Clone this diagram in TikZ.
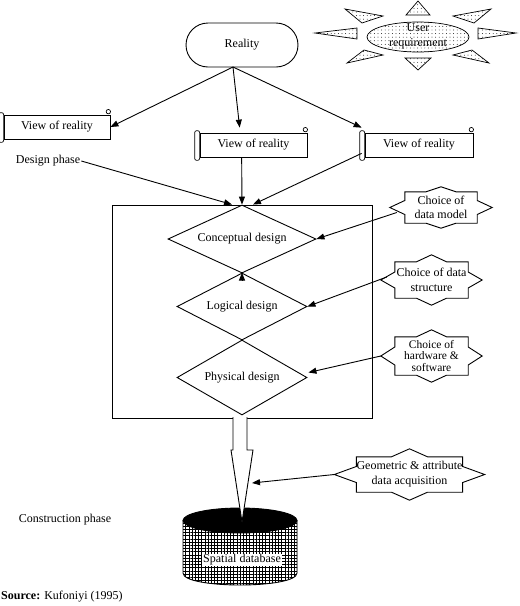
\documentclass[tikz,border=0pt]{standalone}
\usepackage{fontspec}
\setmainfont{Liberation Serif}
\usetikzlibrary{shapes.geometric,arrows.meta,patterns.meta,calc}
\newcommand\scrolldeco[1]{%
  \draw[thinln,fill=white,rounded corners=2pt] ($(#1.north west)+(-5,-2)$) rectangle ($(#1.south west)+(0,3)$);
  \draw[thinln] ($(#1.north east)+(-2,-3)$) circle (2.2pt);
}
\newcommand\sealdeco[5]{%
  \draw[ln] (#1.north west) -- ($(#1.north)+(-#4,0)$) -- ($(#1.north)+(0,-#2)$) -- ($(#1.north)+(#4,0)$) -- (#1.north east)
   -- ($(#1.east)+(0,-#5)$) -- ($(#1.east)+(#3,0)$) -- ($(#1.east)+(0,#5)$) -- (#1.south east)
   -- ($(#1.south)+(#4,0)$) -- ($(#1.south)+(0,#2)$) -- ($(#1.south)+(-#4,0)$) -- (#1.south west)
   -- ($(#1.west)+(0,#5)$) -- ($(#1.west)+(-#3,0)$) -- ($(#1.west)+(0,-#5)$) -- cycle;
}
\begin{document}
\begin{tikzpicture}[x=1pt,y=-1pt,font=\fontsize{12}{14}\selectfont,
  ln/.style={line width=0.9pt},
  thinln/.style={line width=0.7pt},
  arr/.style={ln,-{Triangle[length=8pt,width=6pt]}},
  scrollbox/.style={draw,thinln,minimum width=#1,minimum height=24pt,inner sep=0pt},
  sealbox/.style={align=center,inner sep=0pt,minimum width=#1},
  dia/.style={diamond,draw,ln,inner sep=0pt},
  dotfill/.style={thinln,pattern={Dots[distance=3.6pt,radius=0.45pt]}},
  plain/.style={inner sep=1pt}]
\useasboundingbox (0,0) rectangle (520,606);

% Reality
\node[draw,ln,rounded corners=22pt,minimum width=112pt,minimum height=44pt] (real) at (242,45) {Reality};
\coordinate (rb) at (233,67);

% User requirement sun
\foreach \a/\b/\c in {{(418,1)}/{(406,15)}/{(430,15)},
                      {(418,70)}/{(405,58)}/{(431,58)},
                      {(315,33)}/{(357,28)}/{(357,39)},
                      {(516,33)}/{(478,28)}/{(478,39)},
                      {(345,9)}/{(383,16)}/{(362,23)},
                      {(491,9)}/{(453,16)}/{(474,23)},
                      {(347,63)}/{(364,50)}/{(383,55)},
                      {(489,63)}/{(472,50)}/{(453,55)}}
  \draw[dotfill] \a -- \b -- \c -- cycle;
\draw[dotfill] (418,37) ellipse [x radius=51, y radius=15];
\node[align=center,font=\fontsize{12}{15}\selectfont] (user) at (418,36) {User\\requirement};

% Views of reality
\node[scrollbox=106pt] (v1) at (57,127) {View of reality};
\scrolldeco{v1}
\node[scrollbox=107pt] (v2) at (253.5,145) {View of reality};
\scrolldeco{v2}
\node[scrollbox=108pt] (v3) at (419,145) {View of reality};
\scrolldeco{v3}

\draw[arr] (rb) -- (v1.east);
\draw[arr] (rb) -- ($(v2.north west)+(40,-5)$);
\draw[arr] (rb) -- ($(v3.north west)+(-3,-5)$);

% Design phase
\node[plain] (dp) at (48,161) {Design phase};

% big box
\node[draw,ln,minimum width=260pt,minimum height=213pt,inner sep=0pt] (box) at (242,311.5) {};

% diamonds
\node[dia,minimum width=148pt,minimum height=68pt,aspect=2.18] (cd) at (242,239) {Conceptual design};
\node[dia,minimum width=130pt,minimum height=67pt,aspect=1.94] (ld) at (242,306.5) {Logical design};
\node[dia,minimum width=130pt,minimum height=75pt,aspect=1.73] (pd) at (242,377.5) {Physical design};

\draw[arr] (dp.east) -- ($(cd.north)+(-10,0)$);
\draw[arr] ($(v2.south west)+(42,0)$) -- (cd.north);
\draw[arr] ($(v3.south west)+(-3,-4)$) -- ($(cd.north)+(11,0)$);
\draw[arr] ($(ld.north)+(0,7)$) -- (ld.north);

% seals
\node[sealbox=72pt,minimum height=31pt] (cm) at (441,207.5) {Choice of\\data model};
\sealdeco{cm}{5}{15}{15}{7}
\node[sealbox=73pt,minimum height=36pt,font=\fontsize{12}{15}\selectfont] (cs) at (431.5,280) {Choice of data\\structure};
\sealdeco{cs}{7}{14}{15}{8}
\node[sealbox=73pt,minimum height=38pt,font=\fontsize{11.5}{11.5}\selectfont] (ch) at (431.5,356) {Choice of\\hardware \&\\software};
\sealdeco{ch}{7}{14}{15}{9}
\node[sealbox=105pt,minimum height=35pt,font=\fontsize{12}{15}\selectfont] (cg) at (409.5,474.5) {Geometric \& attribute\\data acquisition};
\sealdeco{cg}{8}{22}{18}{8}

\draw[arr] ($(cm.west)+(-8,5)$) -- (cd.east);
\draw[arr] ($(cs.west)+(-8,-3)$) -- (ld.east);
\draw[arr] ($(ch.west)+(-14,0)$) -- ($(pd.east)+(1,-5)$);

% construction phase
\node[plain] (cp) at (65,520) {Construction phase};

% cylinder
\path[pattern={Hatch[distance=3.2pt,angle=0,line width=0.22pt]}]
  (183,520) -- (183,573) .. controls (183,589) and (297,589) .. (297,573) -- (297,520) -- cycle;
\path[pattern={Hatch[distance=12.8pt,angle=0,line width=0.45pt]}]
  (183,520) -- (183,573) .. controls (183,589) and (297,589) .. (297,573) -- (297,520) -- cycle;
\draw[ln] (183,520) -- (183,573) .. controls (183,589) and (297,589) .. (297,573) -- (297,520);
\draw[ln,fill=black] (240,520.5) ellipse [x radius=57, y radius=12.5];
\node[fill=white,inner sep=1pt] (sdb) at (242,560) {Spatial database};

% big arrow
\draw[ln,fill=white] (233,417) -- (233,450) -- (231,450) -- (242,522) -- (253,450) -- (247,450) -- (247,417);
\coordinate (ba) at (252,483);
\draw[arr] ($(cg.west)+(-22,0)$) -- (ba);

% source
\node[plain,anchor=west] (src) at (0,597) {\textbf{Source:} Kufoniyi (1995)};
\end{tikzpicture}
\end{document}
